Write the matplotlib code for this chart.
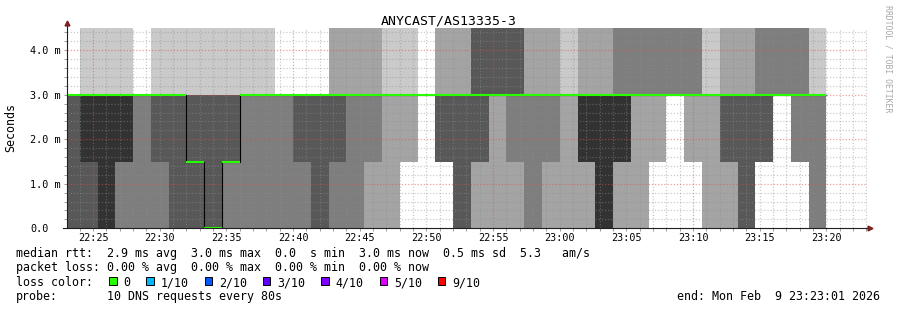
import numpy as np
import matplotlib
matplotlib.use("Agg")
from matplotlib import pyplot as plt
from matplotlib.patches import Rectangle

plt.rcParams['font.family'] = ['DejaVu Sans Mono']

TITLE = "ANYCAST/AS13335-3"

# rtt levels (ms) and how many of the 10 DNS pings landed on each level, per 80 s step
rtt_levels = [0.0, 1.5, 3.0, 4.5]
n_0ms = [4, 4, 5, 3, 3, 3, 4, 4, 6, 3, 3, 3, 3, 3, 4, 3, 3, 2, 2, 0, 0, 0,
         4, 2, 2, 2, 3, 2, 2, 2, 5, 2, 2, 0, 0, 0, 2, 2, 4, 0, 0, 0, 3]
n_1_5ms = [0, 1, 0, 2, 0, 1, 0, 2, 0, 3, 0, 0, 0, 1, 0, 1, 0, 1, 0, 2, 0, 4,
           0, 2, 0, 1, 0, 1, 0, 3, 0, 3, 0, 2, 0, 2, 0, 2, 0, 4, 0, 3, 0]
n_3ms = [6, 4, 4, 4, 7, 5, 5, 3, 3, 3, 6, 6, 7, 6, 6, 4, 5, 5, 7, 7, 10, 4,
         4, 2, 4, 3, 5, 5, 7, 3, 3, 2, 5, 5, 7, 5, 7, 4, 4, 3, 7, 4, 6]
n_4_5ms = [0, 1, 1, 1, 0, 1, 1, 1, 1, 1, 1, 1, 0, 0, 0, 2, 2, 2, 1, 1, 0, 2,
           2, 4, 4, 4, 2, 2, 1, 2, 2, 3, 3, 3, 3, 3, 1, 2, 2, 3, 3, 3, 1]

STEP = 80                                  # seconds per sample
first_step = 22 * 3600 + 22 * 60 + 40      # 22:22:40
graph_start = 22 * 3600 + 23 * 60 + 1      # 22:23:01
graph_end = graph_start + 3600             # 23:23:01

loss_labels = ["0", "1/10", "2/10", "3/10", "4/10", "5/10", "9/10"]
loss_colors = ["#26ff00", "#00b8ff", "#0059ff", "#5e00ff", "#7e00ff", "#dd00ff", "#ff0000"]

stats_rtt = "median rtt:  2.9 ms avg  3.0 ms max  0.0  s min  3.0 ms now  0.5 ms sd  5.3   am/s"
stats_loss = "packet loss: 0.00 % avg  0.00 % max  0.00 % min  0.00 % now"
probe_text = "10 DNS requests every 80s"
end_text = "end: Mon Feb  9 23:23:01 2026"

W, H = 897, 310
fig = plt.figure(figsize=(W / 100, H / 100), dpi=100, facecolor="white")


def fx(x):
    return x / W


def fy(y):
    return 1 - y / H


AX_L, AX_R, AX_T, AX_B = 66.7, 866.7, 28.0, 228.3
ax = fig.add_axes([fx(AX_L), fy(AX_B), (AX_R - AX_L) / W, (AX_B - AX_T) / H])
ax.set_xlim(graph_start, graph_end)
ax.set_ylim(0, 4.5)
for s in ax.spines.values():
    s.set_visible(False)

# smoke: pairs of sorted pings, outer pair lightest
counts = np.array([n_0ms, n_1_5ms, n_3ms, n_4_5ms]).T
pings = [np.repeat(rtt_levels, c) for c in counts]
lefts = first_step + STEP * np.arange(len(pings))
npings = len(pings[0])
half = npings // 2
for i in range(1, half + 1):
    shade = int(190 / half * (half - i)) + 50
    color = "#%02x%02x%02x" % (shade, shade, shade)
    lo = np.array([p[i - 1] for p in pings])
    hi = np.array([p[npings - i] for p in pings])
    ax.bar(lefts, hi - lo, width=STEP, bottom=lo, align="edge", color=color,
           linewidth=0, antialiased=False, zorder=1)

# grid (drawn over the smoke like rrdtool does), dotted
dots = (0, (1, 1.5))
grid_minor = (0.56, 0.56, 0.56, 0.45)
grid_major = (0.87, 0.31, 0.31, 0.55)
major_x = np.arange(22 * 3600 + 25 * 60, graph_end, 15 * 60)
minor_x = [t for t in range(graph_start - graph_start % 60 + 60, graph_end, 60) if t not in major_x]
major_y = [1, 2, 3, 4]
minor_y = [v / 5 for v in range(1, 23) if v % 5]
ax.vlines(minor_x, 0, 4.5, colors=[grid_minor], linestyles=[dots], linewidth=0.9, zorder=2)
ax.hlines(minor_y, graph_start, graph_end, colors=[grid_minor], linestyles=[dots], linewidth=0.9, zorder=2)
ax.vlines(major_x, 0, 4.5, colors=[grid_major], linestyles=[dots], linewidth=0.9, zorder=2)
ax.hlines(major_y, graph_start, graph_end, colors=[grid_major], linestyles=[dots], linewidth=0.9, zorder=2)

# median line, coloured by loss (no loss at all here)
median = np.array([p[npings // 2] for p in pings])
edges = np.append(lefts, lefts[-1] + STEP)
ax.stairs(median, edges, baseline=None, color="black", linewidth=0.8, zorder=3)
ax.hlines(median, edges[:-1], edges[1:], color=loss_colors[0], linewidth=1.5, zorder=4)

# ticks
label_x = np.arange(22 * 3600 + 25 * 60, graph_end, 5 * 60)
ax.set_xticks(label_x, ["%02d:%02d" % (t // 3600, t % 3600 // 60) for t in label_x])
ax.set_xticks(minor_x, minor=True)
ax.set_yticks([0, 1, 2, 3, 4], ["0.0", "1.0 m", "2.0 m", "3.0 m", "4.0 m"])
ax.set_yticks(minor_y, minor=True)
ax.tick_params(which="both", direction="out", length=2, width=0.6, color="#8c8c8c")
ax.tick_params(axis="x", which="major", labelsize=7.3, pad=1.6)
ax.tick_params(axis="y", which="major", labelsize=7.3, pad=24.4)
for lbl in ax.get_yticklabels():
    lbl.set_horizontalalignment("left")

# axis lines with arrows
def ax_x(px):
    return (px - AX_L) / (AX_R - AX_L)


def ax_y(py):
    return (AX_B - py) / (AX_B - AX_T)


ax.plot([0, 0], [0, ax_y(24)], transform=ax.transAxes, clip_on=False, color="#1f1f1f", lw=0.8, zorder=5)
ax.plot([ax_x(63), ax_x(869)], [0, 0], transform=ax.transAxes, clip_on=False, color="#1f1f1f", lw=0.8, zorder=5)
ax.plot(0, ax_y(23), marker="^", ms=3.5, color="#801f1f", transform=ax.transAxes, clip_on=False, zorder=6)
ax.plot(ax_x(870), 0, marker=">", ms=3.5, color="#801f1f", transform=ax.transAxes, clip_on=False, zorder=6)

# texts
fig.text(0.5, fy(24), TITLE, ha="center", va="baseline", fontsize=9.5)
fig.text(fx(11), fy(128), "Seconds", rotation=90, ha="center", va="center", fontsize=8.4)
fig.text(fx(888), fy(5), "RRDTOOL / TOBI OETIKER", rotation=-90, ha="center", va="top",
         fontsize=5.9, color="#a8a8a8")

LEG = 8.4
CH = 7.0   # char advance in px
fig.text(fx(16), fy(257), stats_rtt, va="baseline", fontsize=LEG)
fig.text(fx(16), fy(271.5), stats_loss, va="baseline", fontsize=LEG)
fig.text(fx(16), fy(286), "loss color:", va="baseline", fontsize=LEG)
bx = 109.0
for lab, col in zip(loss_labels, loss_colors):
    fig.add_artist(Rectangle((fx(bx), fy(284.5)), 7.5 / W, 7.5 / H, transform=fig.transFigure,
                             facecolor=col, edgecolor="black", linewidth=0.7))
    fig.text(fx(bx + 14.6), fy(286), lab, va="baseline", fontsize=LEG)
    bx = bx + 14.6 + CH * len(lab) + 15.7
fig.text(fx(16), fy(300.3), "probe:", va="baseline", fontsize=LEG)
fig.text(fx(107), fy(300.3), probe_text, va="baseline", fontsize=LEG)
fig.text(fx(880), fy(300.3), end_text, ha="right", va="baseline", fontsize=LEG)

fig.savefig("out.png", dpi=100)
